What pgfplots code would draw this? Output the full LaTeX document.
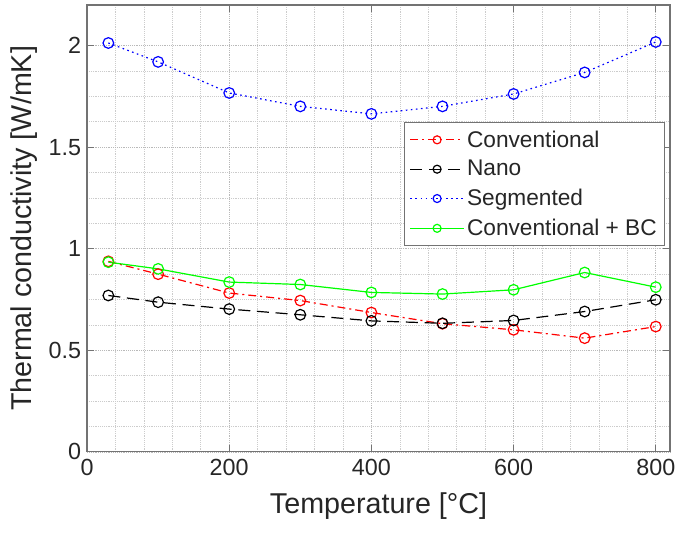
\documentclass[border=0pt]{standalone}
\usepackage{pgfplots}
\pgfplotsset{compat=1.18}
\usepackage{fontspec}
\setmainfont{Liberation Sans}

\definecolor{axgray}{gray}{0.45}
\definecolor{txtgray}{gray}{0.15}

\begin{document}
\begin{tikzpicture}[x=1pt,y=1pt]
% fixed page frame around the axis box (axis box: 437pt x 335pt)
\useasboundingbox (-65.25,-60.75) rectangle (441.5,338.75);
\begin{axis}[
  at={(0,0)}, anchor=south west,
  scale only axis,
  width=437pt, height=335pt,
  xmin=0, xmax=820, ymin=0, ymax=2.2,
  xtick={0,200,400,600,800},
  ytick={0,0.5,1,1.5,2},
  minor x tick num=4,
  minor y tick num=3,
  grid=both,
  major grid style={densely dotted, gray!55, line width=0.5pt},
  minor grid style={densely dotted, gray!40, line width=0.5pt},
  tick align=inside,
  major tick length=5pt,
  minor tick length=0pt,
  axis line style={axgray, line width=0.9pt},
  every tick/.style={axgray, line width=0.8pt},
  /pgf/number format/assume math mode=true,
  ticklabel style={font=\fontsize{17.5}{20}\selectfont, text=txtgray},
  yticklabel style={/pgf/number format/fixed, xshift=-1pt},
  xticklabel style={yshift=-2pt},
  xlabel={Temperature [°C]},
  ylabel={Thermal conductivity [W/mK]},
  label style={font=\fontsize{21.5}{24}\selectfont, text=txtgray},
  xlabel style={at={(axis description cs:0.5,-0.122)}, anchor=center},
  ylabel style={at={(axis description cs:-0.108,0.5)}, anchor=center},
  legend style={
    at={(0.992,0.738)}, anchor=north east,
    draw=axgray, line width=0.8pt, fill=white,
    font=\fontsize{17}{19}\selectfont, text=txtgray,
    row sep=4.5pt, inner xsep=4pt, inner ysep=4pt,
  },
  legend cell align=left,
  legend image code/.code={
    \draw[#1, mark size=3pt, mark repeat=2, mark phase=2]
      plot coordinates {(0pt,0pt) (20pt,0pt) (40pt,0pt)};
  },
  mark options={solid, line width=0.9pt},
  every axis plot/.append style={line width=0.9pt},
]
% Conventional
\addplot[color=red, dash pattern=on 6pt off 3pt on 1.5pt off 3pt, mark=o, mark size=4pt]
  coordinates {(30,0.938) (100,0.875) (200,0.782) (300,0.745) (400,0.686)
               (500,0.631) (600,0.601) (700,0.560) (800,0.617)};
\addlegendentry{Conventional}
% Nano
\addplot[color=black, dash pattern=on 9pt off 5pt, mark=o, mark size=4pt]
  coordinates {(30,0.770) (100,0.737) (200,0.703) (300,0.675) (400,0.645)
               (500,0.633) (600,0.647) (700,0.691) (800,0.749)};
\addlegendentry{Nano}
% Segmented
\addplot[color=blue, dash pattern=on 1.2pt off 2.6pt, mark=o, mark size=4pt]
  coordinates {(30,2.013) (100,1.920) (200,1.767) (300,1.701) (400,1.664)
               (500,1.701) (600,1.762) (700,1.868) (800,2.018)};
\addlegendentry{Segmented}
% Conventional + BC
\addplot[color=green, solid, mark=o, mark size=4pt]
  coordinates {(30,0.934) (100,0.901) (200,0.836) (300,0.824) (400,0.785)
               (500,0.777) (600,0.798) (700,0.883) (800,0.811)};
\addlegendentry{Conventional + BC}
\end{axis}
\end{tikzpicture}
\end{document}
